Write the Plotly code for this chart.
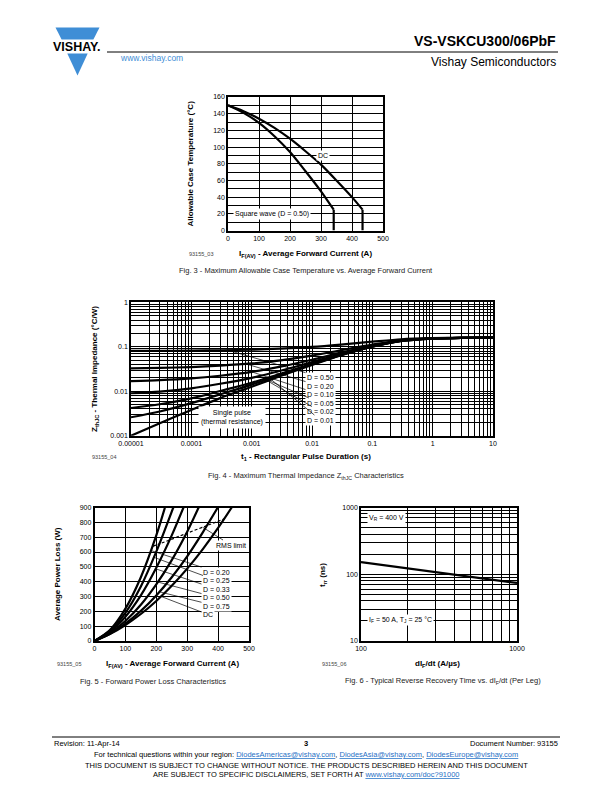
import numpy as np
import plotly.graph_objects as go

FONT = "Liberation Sans, Arial, Helvetica, sans-serif"
W, H = 612, 792

# ---------------- data: Fig. 3 ----------------
fig3_if_square = [0, 50, 100, 150, 200, 250, 300, 341, 341]
fig3_tc_square = [150, 141, 129, 113, 94, 71, 47, 25, 0]
fig3_if_dc = [0, 50, 100, 150, 200, 250, 300, 350, 400, 434, 434]
fig3_tc_dc = [150, 143, 134, 123, 110, 95, 79, 60, 40, 25, 0]

# ---------------- data: Fig. 4 ----------------
fig4_t = [1e-5, 3e-5, 1e-4, 3e-4, 1e-3, 3e-3, 1e-2, 3e-2, 0.1, 0.3, 1, 3, 10]
fig4_zth_d050 = [0.0805, 0.081, 0.082, 0.0835, 0.086, 0.091, 0.0995, 0.112, 0.130, 0.1475, 0.1565, 0.1595, 0.160]
fig4_zth_d020 = [0.0328, 0.0335, 0.035, 0.0376, 0.0421, 0.0496, 0.0632, 0.0832, 0.112, 0.140, 0.1544, 0.1592, 0.160]
fig4_zth_d010 = [0.0169, 0.0177, 0.0194, 0.0223, 0.0273, 0.0358, 0.0511, 0.0736, 0.106, 0.1375, 0.1537, 0.1591, 0.160]
fig4_zth_d005 = [0.0090, 0.0098, 0.0116, 0.0147, 0.0200, 0.0289, 0.0451, 0.0688, 0.103, 0.1363, 0.1534, 0.1591, 0.160]
fig4_zth_d002 = [0.0042, 0.0051, 0.0069, 0.0101, 0.0155, 0.0248, 0.0414, 0.0659, 0.1012, 0.1355, 0.1531, 0.1590, 0.160]
fig4_zth_d001 = [0.0026, 0.0035, 0.0054, 0.0085, 0.0141, 0.0234, 0.0402, 0.0650, 0.1006, 0.1353, 0.1531, 0.1590, 0.160]
fig4_zth_single = [0.0010, 0.0019, 0.0038, 0.0070, 0.0126, 0.022, 0.039, 0.064, 0.100, 0.135, 0.153, 0.159, 0.160]
fig4_labels = ["D = 0.50", "D = 0.20", "D = 0.10", "D = 0.05", "D = 0.02", "D = 0.01"]
fig4_xticks = ["0.00001", "0.0001", "0.001", "0.01", "0.1", "1", "10"]
fig4_yticks = ["0.001", "0.01", "0.1", "1"]

# ---------------- data: Fig. 5 ----------------
fig5_if_d020 = [0, 50, 100, 150, 200, 228]
fig5_p_d020 = [0, 74, 218, 430, 712, 900]
fig5_if_d025 = [0, 50, 100, 150, 200, 255]
fig5_p_d025 = [0, 68, 190, 368, 602, 900]
fig5_if_d033 = [0, 50, 100, 150, 200, 250, 288]
fig5_p_d033 = [0, 61, 164, 308, 494, 712, 900]
fig5_if_d050 = [0, 50, 100, 150, 200, 250, 300, 337]
fig5_p_d050 = [0, 54, 135, 244, 381, 545, 737, 900]
fig5_if_d075 = [0, 50, 100, 150, 200, 250, 300, 350, 399]
fig5_p_d075 = [0, 49, 117, 203, 307, 430, 571, 731, 900]
fig5_if_dc = [0, 50, 100, 150, 200, 250, 300, 350, 400, 444]
fig5_p_dc = [0, 47, 108, 182, 270, 372, 488, 618, 762, 900]
fig5_rms_if = [188, 210, 241, 297, 364, 420]
fig5_rms_p = [638, 655, 679, 725, 778, 823]
fig5_labels = ["D = 0.20", "D = 0.25", "D = 0.33", "D = 0.50", "D = 0.75", "DC"]

# ---------------- data: Fig. 6 ----------------
fig6_didt = [100, 200, 500, 1000]
fig6_trr = [152, 123, 92, 74]
fig6_xticks = ["100", "1000"]
fig6_yticks = ["10", "100", "1000"]


def px(x):
    return x / W


def py(y):
    return 1 - y / H


fig = go.Figure()

BLACK_LINE = dict(color="black", width=2.2)

for xs, ys in [(fig3_if_square, fig3_tc_square), (fig3_if_dc, fig3_tc_dc)]:
    fig.add_trace(go.Scatter(x=xs[:-1], y=ys[:-1], mode="lines", line=dict(color="black", width=2.2, shape="spline", smoothing=0.8),
                             xaxis="x", yaxis="y", hoverinfo="skip"))
    fig.add_trace(go.Scatter(x=xs[-2:], y=ys[-2:], mode="lines", line=BLACK_LINE, xaxis="x", yaxis="y", hoverinfo="skip"))

fig4_curves = [fig4_zth_d050, fig4_zth_d020, fig4_zth_d010, fig4_zth_d005, fig4_zth_d002, fig4_zth_d001, fig4_zth_single]
for z in fig4_curves:
    fig.add_trace(go.Scatter(x=fig4_t, y=z, mode="lines", line=dict(color="black", width=2.2, shape="spline", smoothing=0.8),
                             xaxis="x2", yaxis="y2", hoverinfo="skip"))

fig5_curves = [(fig5_if_d020, fig5_p_d020), (fig5_if_d025, fig5_p_d025), (fig5_if_d033, fig5_p_d033),
               (fig5_if_d050, fig5_p_d050), (fig5_if_d075, fig5_p_d075), (fig5_if_dc, fig5_p_dc)]
for xs, ys in fig5_curves:
    fig.add_trace(go.Scatter(x=xs, y=ys, mode="lines", line=dict(color="black", width=2.2, shape="spline", smoothing=0.8),
                             xaxis="x3", yaxis="y3", hoverinfo="skip"))
fig.add_trace(go.Scatter(x=fig5_rms_if, y=fig5_rms_p, mode="lines", line=dict(color="black", width=1.2, dash="3px,2px", shape="spline"),
                         xaxis="x3", yaxis="y3", hoverinfo="skip"))

fig.add_trace(go.Scatter(x=fig6_didt, y=fig6_trr, mode="lines", line=dict(color="black", width=2.2),
                         xaxis="x4", yaxis="y4", hoverinfo="skip"))


def log_major_minor(lo, hi):
    major = [10.0 ** e for e in range(lo, hi + 1)]
    minor = [m * 10.0 ** e for e in range(lo, hi) for m in range(2, 10)]
    return major, minor


TICKFONT = dict(family=FONT, size=7, color="black")
GRID = dict(showgrid=True, gridcolor="black", gridwidth=0.9)
base = dict(showline=True, mirror=True, linecolor="black", linewidth=1.5, gridcolor="black", showgrid=True,
            gridwidth=0.9, zeroline=False, ticks="", tickfont=TICKFONT, fixedrange=True, automargin=False)

X3 = [228, 383]; Y3 = [97, 230.5]
X4 = [131, 493]; Y4 = [302.3, 435.7]
X5 = [94.5, 249]; Y5 = [507.5, 641]
X6 = [361, 517]; Y6 = [507.5, 641]

x4M, x4m = log_major_minor(-5, 1)
y4M, y4m = log_major_minor(-3, 0)
x6M, x6m = log_major_minor(2, 3)
y6M, y6m = log_major_minor(1, 3)

fig.update_layout(
    width=W, height=H, autosize=False, margin=dict(l=0, r=0, t=0, b=0, pad=0, autoexpand=False),
    paper_bgcolor="white", plot_bgcolor="white", showlegend=False, font=dict(family=FONT, color="black"),
    xaxis=dict(base, domain=[px(X3[0]), px(X3[1])], range=[0, 500], dtick=100, anchor="y"),
    yaxis=dict(base, domain=[py(Y3[1]), py(Y3[0])], range=[0, 160], dtick=20, anchor="x",
               minor=dict(dtick=10, **GRID)),
    xaxis2=dict(base, type="log", domain=[px(X4[0]), px(X4[1])], range=[-5, 1], tickmode="array",
                tickvals=x4M, ticktext=fig4_xticks, anchor="y2", minor=dict(tickmode="array", tickvals=x4m, **GRID)),
    yaxis2=dict(base, type="log", domain=[py(Y4[1]), py(Y4[0])], range=[-3, 0], tickmode="array",
                tickvals=y4M, ticktext=fig4_yticks, anchor="x2", minor=dict(tickmode="array", tickvals=y4m, **GRID)),
    xaxis3=dict(base, domain=[px(X5[0]), px(X5[1])], range=[0, 500], dtick=100, anchor="y3"),
    yaxis3=dict(base, domain=[py(Y5[1]), py(Y5[0])], range=[0, 900], dtick=100, anchor="x3"),
    xaxis4=dict(base, type="log", domain=[px(X6[0]), px(X6[1])], range=[2, 3], tickmode="array",
                tickvals=x6M, ticktext=fig6_xticks, anchor="y4", minor=dict(tickmode="array", tickvals=x6m, **GRID)),
    yaxis4=dict(base, type="log", domain=[py(Y6[1]), py(Y6[0])], range=[1, 3], tickmode="array",
                tickvals=y6M, ticktext=fig6_yticks, anchor="x4", minor=dict(tickmode="array", tickvals=y6m, **GRID)),
)

ann = []


def txt(x, y, s, size=7.0, xanchor="center", yanchor="middle", color="black", angle=0):
    ann.append(dict(x=px(x), y=py(y), xref="paper", yref="paper", text=s, showarrow=False, xanchor=xanchor,
                    yanchor=yanchor, textangle=angle, font=dict(family=FONT, size=size, color=color)))


BLUE = "#3f8ed6"
shapes = []
shapes.append(dict(type="path", xref="paper", yref="paper", line=dict(width=0), fillcolor=BLUE,
                   path=f"M {px(55.5)} {py(27.5)} L {px(99.5)} {py(27.5)} L {px(93.4)} {py(39.5)} L {px(61.6)} {py(39.5)} Z"))
shapes.append(dict(type="path", xref="paper", yref="paper", line=dict(width=0), fillcolor=BLUE,
                   path=f"M {px(67.3)} {py(53.5)} L {px(87.7)} {py(53.5)} L {px(77.5)} {py(75.5)} Z"))
shapes.append(dict(type="line", xref="paper", yref="paper", x0=px(107), x1=px(558), y0=py(52), y1=py(52),
                   line=dict(color="black", width=1)))
shapes.append(dict(type="line", xref="paper", yref="paper", x0=px(52), x1=px(560), y0=py(737), y1=py(737),
                   line=dict(color="black", width=1)))
txt(76.5, 46.5, "<b>VISHAY.</b>", size=12.5)
txt(558, 41, "<b>VS-VSKCU300/06PbF</b>", size=14, xanchor="right")
txt(558, 62, "Vishay Semiconductors", size=12, xanchor="right")
txt(118, 58.5, "www.vishay.com", size=8.5, xanchor="left", color=BLUE)

txt(190, 163.5, "<b>Allowable Case Temperature (°C)</b>", size=8, angle=-90)
txt(305, 254, "<b>I<sub>F(AV)</sub> - Average Forward Current (A)</b>", size=8)
txt(187, 254, "93155_03", size=5.5, xanchor="left", color="#444")
txt(306, 271, "Fig. 3 - Maximum Allowable Case Temperature vs. Average Forward Current", size=7.5, color="#222")
ann.append(dict(x=306, y=90, xref="x", yref="y", text="DC", showarrow=False, bgcolor="white",
                font=dict(family=FONT, size=7, color="black"), borderpad=1))
ann.append(dict(x=141, y=20, xref="x", yref="y", text="Square wave (D = 0.50)", showarrow=False, bgcolor="white",
                font=dict(family=FONT, size=7, color="black"), borderpad=1))

txt(95, 369, "<b>Z<sub>thJC</sub> - Thermal Impedance (°C/W)</b>", size=8, angle=-90)
txt(306, 457, "<b>t<sub>1</sub> - Rectangular Pulse Duration (s)</b>", size=8)
txt(90, 457, "93155_04", size=5.5, xanchor="left", color="#444")
txt(306, 476, "Fig. 4 - Maximum Thermal Impedance Z<sub>thJC</sub> Characteristics", size=7.5, color="#222")

lt = np.log10(fig4_t)
fig4_tip_t = [4e-4, 8e-4, 1.0e-3, 1.3e-3, 1.6e-3, 2.0e-3]
fig4_lab_y = [377, 386, 394.5, 403, 411.5, 420]
for lab, z, ttip, ly in zip(fig4_labels, fig4_curves[:6], fig4_tip_t, fig4_lab_y):
    xt = np.log10(ttip)
    yt = float(np.interp(xt, lt, np.log10(z)))
    ax = -5 + (320.5 - X4[0]) / (X4[1] - X4[0]) * 6
    ay = -(ly - Y4[0]) / (Y4[1] - Y4[0]) * 3
    ann.append(dict(x=xt, y=yt, xref="x2", yref="y2", ax=ax, ay=ay, axref="x2", ayref="y2", text=lab,
                    showarrow=True, arrowhead=0, arrowwidth=0.7, arrowcolor="black", standoff=0, bgcolor="white",
                    borderpad=1, font=dict(family=FONT, size=7, color="black")))
sx = -5 + (231.5 - X4[0]) / (X4[1] - X4[0]) * 6
sy = -(417.5 - Y4[0]) / (Y4[1] - Y4[0]) * 3
ann.append(dict(x=sx, y=sy, xref="x2", yref="y2", text="Single pulse<br>(thermal resistance)", showarrow=False,
                bgcolor="white", borderpad=2, font=dict(family=FONT, size=7, color="black")))

txt(57, 574, "<b>Average Power Loss (W)</b>", size=8, angle=-90)
txt(172, 664, "<b>I<sub>F(AV)</sub> - Average Forward Current (A)</b>", size=8)
txt(55, 664, "93155_05", size=5.5, xanchor="left", color="#444")
txt(153, 681, "Fig. 5 - Forward Power Loss Characteristics", size=7.5, color="#222")

sxp = (X5[1] - X5[0]) / 500.0
syp = (Y5[1] - Y5[0]) / 900.0
fig5_tip_if = [182, 192, 198, 205, 210, 215]
fig5_lab_y = [572, 580.5, 589, 597.5, 606, 614.5]
for lab, (xs, ys), itip, ly in zip(fig5_labels, fig5_curves, fig5_tip_if, fig5_lab_y):
    ptip = float(np.interp(itip, xs, ys))
    w = 27 if lab != "DC" else 10
    ax = (203 + w / 2 - X5[0]) / sxp
    ay = (Y5[1] - ly) / syp
    ann.append(dict(x=itip, y=ptip, xref="x3", yref="y3", ax=ax, ay=ay, axref="x3", ayref="y3", text=lab,
                    showarrow=True, arrowhead=0, arrowwidth=0.7, arrowcolor="black", standoff=0, bgcolor="white",
                    borderpad=1, font=dict(family=FONT, size=7, color="black")))
rtip = 350
ann.append(dict(x=rtip, y=float(np.interp(rtip, fig5_rms_if, fig5_rms_p)), xref="x3", yref="y3",
                ax=(231 - X5[0]) / sxp, ay=(Y5[1] - 545) / syp, axref="x3", ayref="y3", text="RMS limit",
                showarrow=True, arrowhead=0, arrowwidth=0.7, arrowcolor="black", standoff=0, bgcolor="white",
                borderpad=1, font=dict(family=FONT, size=7, color="black")))

txt(323, 575, "<b>t<sub>rr</sub> (ns)</b>", size=8, angle=-90)
txt(437, 664, "<b>dI<sub>F</sub>/dt (A/µs)</b>", size=8)
txt(320, 664, "93155_06", size=5.5, xanchor="left", color="#444")
txt(443, 681, "Fig. 6 - Typical Reverse Recovery Time vs. dI<sub>F</sub>/dt (Per Leg)", size=7.5, color="#222")


def l6(x, y):
    return (2 + (x - X6[0]) / (X6[1] - X6[0]), 3 - (y - Y6[0]) / (Y6[1] - Y6[0]) * 2)


for (cx, cy), s in [((386, 518), "V<sub>R</sub> = 400 V"), ((400, 620), "I<sub>F</sub> = 50 A, T<sub>J</sub> = 25 °C")]:
    lx, ly = l6(cx, cy)
    ann.append(dict(x=lx, y=ly, xref="x4", yref="y4", text=s, showarrow=False, bgcolor="white", borderpad=1,
                    font=dict(family=FONT, size=7, color="black")))

LINK = "#1f6fc5"
txt(52, 743, "Revision: 11-Apr-14", size=7.5, xanchor="left")
txt(306, 743, "<b>3</b>", size=7.5)
txt(560, 743, "Document Number: 93155", size=7.5, xanchor="right")
txt(306, 754, "For technical questions within your region: "
              f"<span style='color:{LINK}'><u>DiodesAmericas@vishay.com</u></span>, "
              f"<span style='color:{LINK}'><u>DiodesAsia@vishay.com</u></span>, "
              f"<span style='color:{LINK}'><u>DiodesEurope@vishay.com</u></span>", size=7.5)
txt(306, 765, "THIS DOCUMENT IS SUBJECT TO CHANGE WITHOUT NOTICE. THE PRODUCTS DESCRIBED HEREIN AND THIS DOCUMENT", size=7.5)
txt(306, 774.5, "ARE SUBJECT TO SPECIFIC DISCLAIMERS, SET FORTH AT "
                f"<span style='color:{LINK}'><u>www.vishay.com/doc?91000</u></span>", size=7.5)

fig.update_layout(annotations=ann, shapes=shapes)
fig.write_html("out.html", config={"responsive": False, "displayModeBar": False},
               post_script="document.body.style.margin='0';document.body.style.overflow='hidden';")
